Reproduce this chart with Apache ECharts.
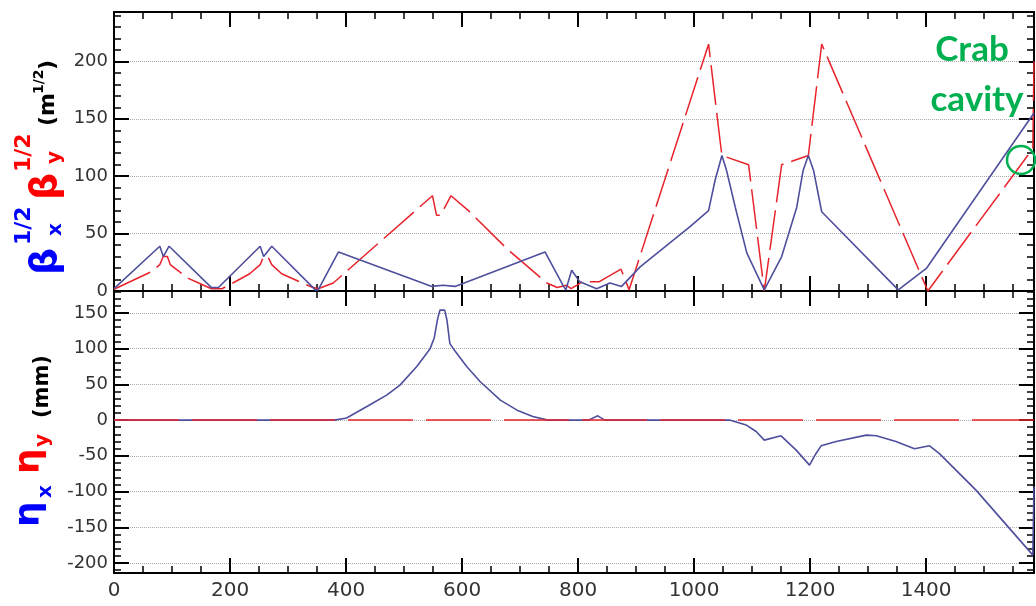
<!DOCTYPE html>
<html>
<head>
<meta charset="utf-8">
<script src="https://cdn.jsdelivr.net/npm/echarts@6/dist/echarts.min.js"></script>
<style>
html, body { margin: 0; padding: 0; background: #fff; }
#chart { width: 1036px; height: 606px; }
</style>
</head>
<body>
<div id="chart"></div>
<script>
// s (m) and value pairs
const betaX = [[0, 2], [79, 39], [85, 30], [95, 39], [168, 3], [180, 3], [252, 39], [258, 30], [272, 39],
  [347, 1], [352, 1], [387, 34], [548, 4], [567, 5], [588, 4], [743, 34], [775, 4], [779, 1], [789, 18],
  [803, 8], [832, 2], [855, 7], [875, 4], [907, 21], [993, 56], [1025, 70], [1036, 96], [1048, 118],
  [1056, 105], [1071, 73], [1091, 33], [1121, 1], [1151, 30], [1177, 73], [1188, 105], [1197, 118],
  [1206, 105], [1220, 69], [1352, 1], [1401, 20], [1586, 155]]
const betaY = [[0, 1.5], [65, 17], [79, 23], [85, 30], [92, 30], [97, 23], [128, 11], [146, 7], [168, 2],
  [186, 2], [194, 4], [234, 15], [252, 23], [258, 30], [265, 30], [272, 23], [289, 15], [338, 4], [352, 2],
  [378, 7], [549, 83], [556, 66], [563, 66], [581, 83], [611, 70], [677, 37], [746, 7], [764, 3], [780, 5],
  [788, 2], [808, 8], [836, 8], [874, 19], [888, 1], [1025, 215], [1045, 130], [1048, 118], [1094, 110],
  [1121, 0], [1151, 110], [1197, 118], [1220, 215], [1403, 0], [1584, 124], [1586, 200]]
const etaX = [[0, 0], [380, 0], [401, 3], [436, 19], [470, 35], [493, 49], [522, 75], [545, 100], [552, 115],
  [558, 142], [562, 154], [570, 154], [574, 140], [579, 107], [585, 100], [608, 75], [631, 54], [666, 28],
  [697, 13], [722, 5], [748, 0], [818, 0], [834, 6], [846, 0], [1061, 0], [1090, -7], [1107, -16],
  [1121, -28], [1150, -22], [1176, -42], [1199, -63], [1210, -47], [1219, -36], [1245, -30], [1297, -21],
  [1314, -22], [1348, -30], [1380, -40], [1406, -36], [1423, -47], [1486, -98], [1584, -189], [1586, -93]]
const etaY = [[0, 0], [1586, 0]]

const sMax = 1586
const betaRange = [0, 243]
const etaRange = [-214, 180.7]

const blue = '#4e4f9c'
const red = '#e8232b'
const green = '#00b050'

function xAx(gridIndex, position, showLabel) {
  return {
    type: 'value',
    gridIndex: gridIndex,
    position: position,
    min: 0,
    max: sMax,
    interval: 200,
    axisLine: { onZero: false, lineStyle: { color: '#000', width: 2 } },
    axisTick: { inside: true, length: 15, lineStyle: { color: '#000', width: 2 } },
    minorTick: { show: true, splitNumber: 4, length: 7, lineStyle: { color: '#000', width: 1.5 } },
    axisLabel: {
      show: showLabel, color: '#333', fontSize: 20, fontFamily: 'DejaVu Sans', margin: 8, showMaxLabel: false,
      formatter: function(v) {
        return String(v)
      }
    },
    splitLine: { show: false }
  }
}

function yAx(gridIndex, position, range, showLabel, split) {
  return {
    type: 'value',
    gridIndex: gridIndex,
    position: position,
    min: range[0],
    max: range[1],
    splitNumber: gridIndex === 0 ? 5 : 8,
    axisLine: { onZero: false, lineStyle: { color: '#000', width: 2 } },
    axisTick: { inside: true, length: 15, lineStyle: { color: '#000', width: 2 } },
    minorTick: { show: true, splitNumber: 5, length: 7, lineStyle: { color: '#000', width: 1.5 } },
    axisLabel: {
      show: showLabel, color: '#333', fontSize: 18, fontFamily: 'DejaVu Sans', margin: 6,
      showMaxLabel: false, showMinLabel: gridIndex === 0
    },
    splitLine: { show: split, lineStyle: { color: '#aaa', type: 'dotted', width: 1 } }
  }
}

// rotated text piece for the y titles (x,y = right/bottom corner on screen)
function vtext(str, x, y, size, color) {
  return {
    type: 'text',
    x: x,
    y: y,
    rotation: Math.PI / 2,
    style: {
      text: str,
      fill: color,
      font: 'bold ' + size + 'px "DejaVu Sans"',
      align: 'left',
      verticalAlign: 'bottom'
    }
  }
}

const chart = echarts.init(document.getElementById('chart'))
chart.setOption({
  animation: false,
  grid: [
    { left: 114, top: 12, width: 920, height: 279 },
    { left: 114, top: 291, width: 920, height: 282 }
  ],
  xAxis: [xAx(0, 'bottom', false), xAx(0, 'top', false), xAx(1, 'bottom', true), xAx(1, 'top', false)],
  yAxis: [
    yAx(0, 'left', betaRange, true, true),
    yAx(0, 'right', betaRange, false, false),
    yAx(1, 'left', etaRange, true, true),
    yAx(1, 'right', etaRange, false, false)
  ],
  series: [
    {
      type: 'line', xAxisIndex: 0, yAxisIndex: 0, data: betaY, showSymbol: false,
      lineStyle: { color: red, width: 1.5, type: [40, 8] }
    },
    {
      type: 'line', xAxisIndex: 0, yAxisIndex: 0, data: betaX, showSymbol: false,
      lineStyle: { color: blue, width: 1.6 }
    },
    {
      type: 'line', xAxisIndex: 2, yAxisIndex: 2, data: etaX, showSymbol: false,
      lineStyle: { color: blue, width: 1.6 }
    },
    {
      type: 'line', xAxisIndex: 2, yAxisIndex: 2, data: etaY, showSymbol: false,
      lineStyle: { color: red, width: 1.5, type: [65, 13] }
    }
  ],
  graphic: [
    // top title: beta_x^1/2 beta_y^1/2 (m^1/2)
    vtext('β', 65, 275, 38, '#0000ff'),
    vtext('x', 66, 236, 20, '#0000ff'),
    vtext('1/2', 35, 245, 22, '#0000ff'),
    vtext('β', 65, 200, 38, '#ff0000'),
    vtext('y', 65, 164, 20, '#ff0000'),
    vtext('1/2', 35, 172, 22, '#ff0000'),
    vtext('(m', 59, 126, 22, '#000'),
    vtext('1/2', 46, 94, 14, '#000'),
    vtext(')', 59, 70, 22, '#000'),
    // bottom title: eta_x eta_y (mm)
    vtext('η', 48, 527, 36, '#0000ff'),
    vtext('x', 56, 498, 20, '#0000ff'),
    vtext('η', 48, 474, 36, '#ff0000'),
    vtext('y', 53, 447, 20, '#ff0000'),
    vtext('(mm)', 53, 418, 21, '#000'),
    // crab cavity note
    {
      type: 'text', x: 972, y: 50,
      style: { text: 'Crab', fill: green, font: 'bold 35px Lato', align: 'center', verticalAlign: 'middle' }
    },
    {
      type: 'text', x: 977, y: 100,
      style: { text: 'cavity', fill: green, font: 'bold 35px Lato', align: 'center', verticalAlign: 'middle' }
    },
    {
      type: 'circle', shape: { cx: 1021, cy: 160, r: 14 },
      style: { fill: 'none', stroke: green, lineWidth: 2.5 }, z: 100
    }
  ]
})
</script>
</body>
</html>
